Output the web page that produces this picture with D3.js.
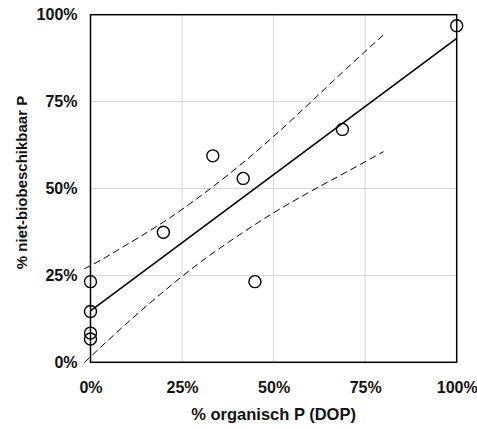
<!DOCTYPE html>
<html>
<head>
<meta charset="utf-8">
<script src="https://cdn.jsdelivr.net/npm/d3@7"></script>
<style>
  html, body { margin: 0; padding: 0; background: #fff; }
  svg { display: block; }
  text { font-family: "Liberation Sans", Arial, sans-serif; font-weight: bold; fill: #111; }
</style>
</head>
<body>
<svg id="chart" width="477" height="429"></svg>
<script>
// Share of organic P (DOP) and share of non-bioavailable P per sample
const organicP = [0, 0, 0, 0, 0.199, 0.334, 0.417, 0.449, 0.688, 1.0];
const nonBioP  = [0.232, 0.146, 0.084, 0.067, 0.374, 0.594, 0.529, 0.232, 0.670, 0.968];

// Linear fit (end points)
const fitX = [0, 1];
const fitY = [0.148, 0.932];

// 95% confidence band around the fit
const bandX     = [-0.017, 0, 0.1, 0.2, 0.3, 0.4, 0.5, 0.6, 0.7, 0.8];
const bandUpper = [0.269, 0.278, 0.339, 0.404, 0.478, 0.560, 0.650, 0.747, 0.846, 0.942];
const bandLower = [-0.001, 0.016, 0.113, 0.204, 0.288, 0.362, 0.430, 0.491, 0.548, 0.606];

// Axis ticks
const xTicks = [0, 0.25, 0.5, 0.75, 1];
const yTicks = [0, 0.25, 0.5, 0.75, 1];
const xTitle = "% organisch P (DOP)";
const yTitle = "% niet-biobeschikbaar P";

const svg = d3.select("#chart");
const plotL = 90.5, plotR = 456.7, plotT = 14.7, plotB = 362.3;

const x = d3.scaleLinear().domain([0, 1]).range([plotL, plotR]);
const y = d3.scaleLinear().domain([0, 1]).range([plotB, plotT]);
const pct = d3.format(".0%");

// gridlines
const grid = svg.append("g").attr("stroke", "#d4d4d4").attr("stroke-width", 1);
grid.selectAll(".gx").data(xTicks.slice(1, -1)).join("line")
  .attr("x1", d => x(d)).attr("x2", d => x(d)).attr("y1", plotT).attr("y2", plotB);
grid.selectAll(".gy").data(yTicks.slice(1, -1)).join("line")
  .attr("y1", d => y(d)).attr("y2", d => y(d)).attr("x1", plotL).attr("x2", plotR);

// axes: labels only, frame drawn separately
const xAxis = svg.append("g").attr("transform", `translate(0,${plotB})`)
  .call(d3.axisBottom(x).tickValues(xTicks).tickFormat(pct).tickSize(0).tickPadding(19));
const yAxis = svg.append("g").attr("transform", `translate(${plotL},0)`)
  .call(d3.axisLeft(y).tickValues(yTicks).tickFormat(pct).tickSize(0).tickPadding(13));
[xAxis, yAxis].forEach(a => {
  a.attr("font-family", null).attr("font-size", null);
  a.select(".domain").remove();
  a.selectAll("text").attr("font-size", 16).attr("fill", "#111");
});

// plot frame
svg.append("rect")
  .attr("x", plotL).attr("y", plotT)
  .attr("width", plotR - plotL).attr("height", plotB - plotT)
  .attr("fill", "none").attr("stroke", "#000").attr("stroke-width", 1.5);

// confidence band
const bandLine = vals => d3.line()
  .x((d, i) => x(bandX[i])).y((d, i) => y(vals[i]))
  .curve(d3.curveMonotoneX)(vals);
[bandUpper, bandLower].forEach(vals => {
  svg.append("path")
    .attr("d", bandLine(vals))
    .attr("fill", "none").attr("stroke", "#000").attr("stroke-width", 1)
    .attr("stroke-dasharray", "7,4");
});

// fit line
svg.append("path")
  .attr("d", d3.line().x((d, i) => x(fitX[i])).y(d => y(d))(fitY))
  .attr("fill", "none").attr("stroke", "#000").attr("stroke-width", 1.6);

// samples
svg.append("g").selectAll("circle").data(organicP).join("circle")
  .attr("cx", d => x(d)).attr("cy", (d, i) => y(nonBioP[i]))
  .attr("r", 6)
  .attr("fill", "none").attr("stroke", "#000").attr("stroke-width", 1.4);

// axis titles
svg.append("text")
  .attr("x", (plotL + plotR) / 2).attr("y", 420)
  .attr("text-anchor", "middle").attr("font-size", 16.5)
  .text(xTitle);
svg.append("text")
  .attr("transform", `translate(27,182.5) rotate(-90)`)
  .attr("text-anchor", "middle").attr("font-size", 15)
  .text(yTitle);
</script>
</body>
</html>
